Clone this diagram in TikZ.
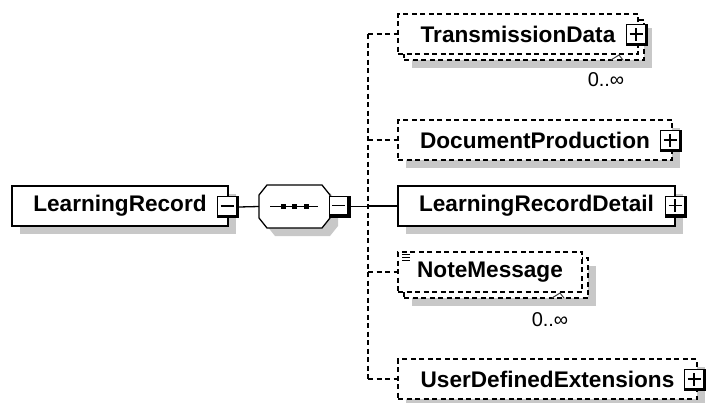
\documentclass[tikz,border=0pt]{standalone}
\usepackage{fontspec}
\setmainfont{Liberation Sans}
\usetikzlibrary{shadows,calc}
\definecolor{shadowgray}{RGB}{200,200,200}
\newcommand\pmsqbase{%
  \coordinate (ppA) at ([shift={(1.3pt,-1.3pt)}]path picture bounding box.north west);
  \coordinate (ppB) at ([shift={(-3.2pt,3.2pt)}]path picture bounding box.south east);
  \fill[white] (ppA) rectangle (ppB);
  \coordinate (ppC) at ($(ppA)!0.5!(ppB)$);
  \draw[line width=1.3pt,black] ([xshift=-6.5pt]ppC) -- ([xshift=6.5pt]ppC);}
\begin{document}
\begin{tikzpicture}[x=1pt,y=-1pt, line width=1.3pt,
  every node/.style={inner sep=0pt, outer sep=0pt},
  shad/.style={drop shadow={shadow xshift=8pt, shadow yshift=-8pt, fill=shadowgray, opacity=1}},
  elbox/.style={draw, fill=white, minimum height=40pt, font=\bfseries\fontsize{22.6}{26}\selectfont},
  optdash/.style={dash pattern=on 5pt off 3.5pt},
  minusbox/.style={minimum size=22pt, fill=black, path picture={\pmsqbase}},
  plusbox/.style={minimum size=22pt, fill=black, path picture={\pmsqbase
    \draw[line width=1.3pt,black] ([yshift=-6.5pt]ppC) -- ([yshift=6.5pt]ppC);}},
  mult/.style={font=\fontsize{20}{23}\selectfont},
  notch/.style={line width=1pt, black!75}
]
\useasboundingbox (0,0) rectangle (707,402);

% root element
\node[elbox, shad, minimum width=216pt] (lr) at (120,206) {LearningRecord};
\node[minusbox] (lrm) at (228,207) {};

% sequence compositor
\node[minimum width=71pt, minimum height=43pt] (seq) at (294.5,206.5) {};
\fill[shadowgray] ([shift={(16pt,-8pt)}]seq.north west) -- ([shift={(0pt,-8pt)}]seq.north east)
  -- ([shift={(8pt,-18pt)}]seq.north east) -- ([shift={(8pt,2pt)}]seq.south east)
  -- ([shift={(0pt,-8pt)}]seq.south east) -- ([shift={(16pt,-8pt)}]seq.south west)
  -- ([shift={(8pt,2pt)}]seq.south west) -- ([shift={(8pt,-18pt)}]seq.north west) -- cycle;
\draw[fill=white] ([xshift=8pt]seq.north west) -- ([xshift=-8pt]seq.north east)
  -- ([yshift=-10pt]seq.north east) -- ([yshift=10pt]seq.south east)
  -- ([xshift=-8pt]seq.south east) -- ([xshift=8pt]seq.south west)
  -- ([yshift=10pt]seq.south west) -- ([yshift=-10pt]seq.north west) -- cycle;
\draw ([xshift=-24.5pt]seq.center) -- ([xshift=23.5pt]seq.center);
\foreach \dx in {-11.5,0,11.5}
  \fill ([shift={(\dx pt-2.5pt,-2.5pt)}]seq.center) rectangle ([shift={(\dx pt+2.5pt,2.5pt)}]seq.center);
\node[minusbox] (seqm) at (339.5,206.5) {};

% spine
\coordinate (sp) at (368,206.5);

% children
\node[elbox, optdash, shad, minimum width=240pt] (tdb) at (524,40) {};
\node[elbox, optdash, minimum width=240pt] (td) at (518,34) {TransmissionData};
\node[plusbox] (tdp) at (637,35) {};

\node[elbox, optdash, shad, minimum width=274pt] (dp) at (535,140) {DocumentProduction};
\node[plusbox] (dpp) at (671,141) {};

\node[elbox, shad, minimum width=277pt] (lrd) at (536.5,206) {LearningRecordDetail};
\node[plusbox] (lrdp) at (676,206.5) {};

\node[elbox, optdash, shad, minimum width=184pt] (nmb) at (496,278) {};
\node[elbox, optdash, minimum width=184pt] (nm) at (490,272) {NoteMessage};
\draw[line width=1pt] ([shift={(4pt,-2.5pt)}]nm.north west) -- ++(8pt,0pt);
\draw[line width=1pt] ([shift={(4pt,-5.5pt)}]nm.north west) -- ++(8pt,0pt);
\draw[line width=1pt] ([shift={(4pt,-8.5pt)}]nm.north west) -- ++(8pt,0pt);

\node[elbox, optdash, shad, minimum width=299pt] (ude) at (547.5,379) {UserDefinedExtensions};
\node[plusbox] (udep) at (695,380) {};

% connectors
\draw (lrm.east) -- (seq.west);
\draw (seqm.east) -- (sp);
\draw[optdash] (sp |- td.west) -- (sp |- ude.west);
\draw[optdash] (td.west -| sp) -- (td.west);
\draw[optdash] (dp.west -| sp) -- (dp.west);
\draw (lrd.west -| sp) -- (lrd.west);
\draw[optdash] (nm.west -| sp) -- (nm.west);
\draw[optdash] (ude.west -| sp) -- (ude.west);

% multiplicities
\draw[notch] ([xshift=-33pt]tdb.south east) -- ++(8pt,5pt) -- ++(4pt,-5pt);
\node[mult] (tdmult) at (606,80) {0..∞};
\draw[notch] ([xshift=-36pt]nmb.south east) -- ++(8pt,5pt) -- ++(4pt,-5pt);
\node[mult] (nmmult) at (550,320) {0..∞};
\end{tikzpicture}
\end{document}
